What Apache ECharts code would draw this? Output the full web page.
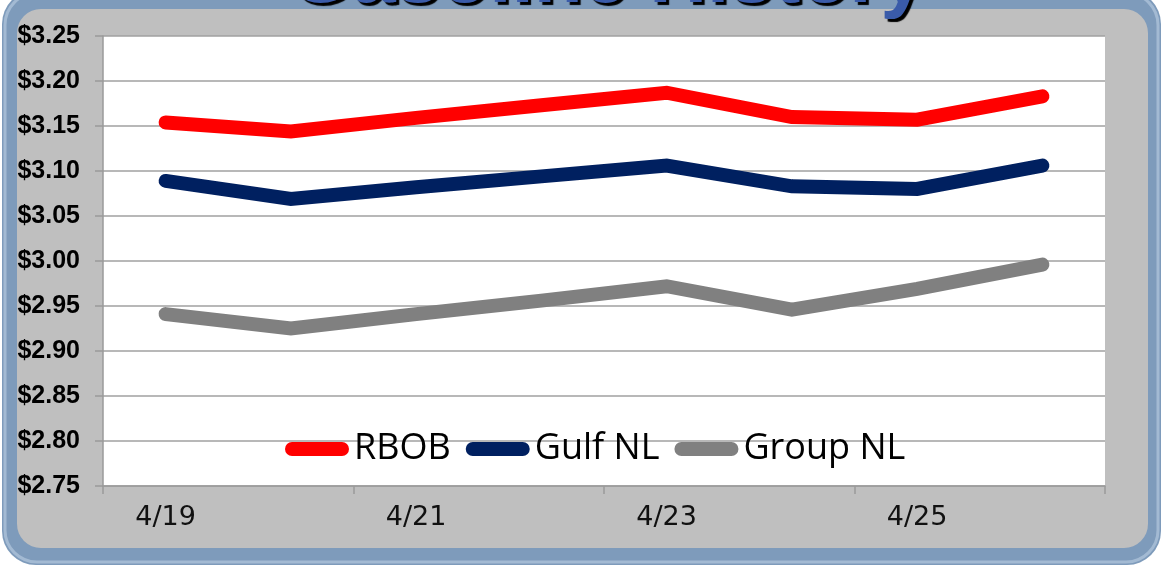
<!DOCTYPE html>
<html>
<head>
<meta charset="utf-8">
<script src="https://cdn.jsdelivr.net/npm/echarts@6/dist/echarts.min.js"></script>
<style>
html,body{margin:0;padding:0;background:#fff;}
#c{width:1162px;height:567px;}
</style>
</head>
<body>
<div id="c"></div>
<script>
var dates = ['4/19','4/20','4/21','4/22','4/23','4/24','4/25','4/26'];
var rbob  = [3.154, 3.144, 3.159, 3.173, 3.187, 3.160, 3.157, 3.183];
var gulfNL = [3.089, 3.069, 3.082, 3.094, 3.106, 3.083, 3.080, 3.106];
var groupNL = [2.941, 2.925, 2.941, 2.956, 2.972, 2.946, 2.969, 2.996];
var seriesNames = ['RBOB', 'Gulf NL', 'Group NL'];
var seriesColors = ['#ff0000', '#002060', '#808080'];
var titleText = 'Gasoline History';

var chart = echarts.init(document.getElementById('c'), null, {renderer: 'canvas'});
var values = [rbob, gulfNL, groupNL];
var option = {
  animation: false,
  backgroundColor: '#ffffff',
  graphic: [
    {type: 'rect', z: -10, silent: true,
     shape: {x: 2, y: -10, width: 1159, height: 575, r: 34},
     style: {fill: '#7e9bbb'}},
    {type: 'rect', z: -9, silent: true,
     shape: {x: 5, y: -7, width: 1153, height: 569, r: 32},
     style: {fill: 'none', stroke: '#a3bad3', lineWidth: 3}},
    {type: 'rect', z: -8, silent: true,
     shape: {x: 17, y: 9, width: 1131, height: 539, r: 24},
     style: {fill: '#bfbfbf'}},
    {type: 'text', z: 50, silent: true,
     x: 607, y: -20,
     style: {text: titleText, fill: '#3a5ba9', font: 'bold 80px "Liberation Sans"',
             align: 'center', verticalAlign: 'middle',
             textShadowColor: '#000', textShadowOffsetX: 3, textShadowOffsetY: 3, textShadowBlur: 1}}
  ],
  grid: {left: 103, right: 57, top: 36, bottom: 81, show: true, backgroundColor: '#ffffff', borderWidth: 0},
  legend: {
    data: seriesNames,
    left: 285, top: 431, padding: 0,
    itemWidth: 64, itemHeight: 14, itemGap: 15,
    icon: 'path://M7,0 H57 A7,7 0 0 1 57,14 H7 A7,7 0 0 1 7,0 Z',
    textStyle: {fontFamily: '"Open Sans"', fontSize: 36, color: '#000'}
  },
  xAxis: {
    type: 'category', data: dates, boundaryGap: true,
    axisLine: {show: true, lineStyle: {color: '#9a9a9a', width: 1.5}},
    axisTick: {show: true, interval: 1, length: 8, lineStyle: {color: '#9a9a9a', width: 1.5}},
    axisLabel: {interval: 1, margin: 18, fontFamily: '"DejaVu Sans"', fontSize: 27, color: '#111'},
    splitLine: {show: false}
  },
  yAxis: {
    type: 'value', min: 2.75, max: 3.25, interval: 0.05,
    axisLine: {show: true, lineStyle: {color: '#9a9a9a', width: 1.5}},
    axisTick: {show: true, length: 8, lineStyle: {color: '#9a9a9a', width: 1.5}},
    axisLabel: {margin: 23, fontFamily: '"Liberation Sans"', fontWeight: 'bold', fontSize: 25, color: '#000',
      formatter: function (v) { return '$' + v.toFixed(2); }},
    splitLine: {show: true, lineStyle: {color: '#a0a0a0', width: 1.5}}
  },
  series: seriesNames.map(function (n, i) {
    return {
      name: n, type: 'line', data: values[i], symbol: 'none', showSymbol: false,
      color: seriesColors[i],
      lineStyle: {width: 14, color: seriesColors[i], cap: 'round', join: 'miter'},
      emphasis: {disabled: true}
    };
  })
};
chart.setOption(option);
</script>
</body>
</html>
